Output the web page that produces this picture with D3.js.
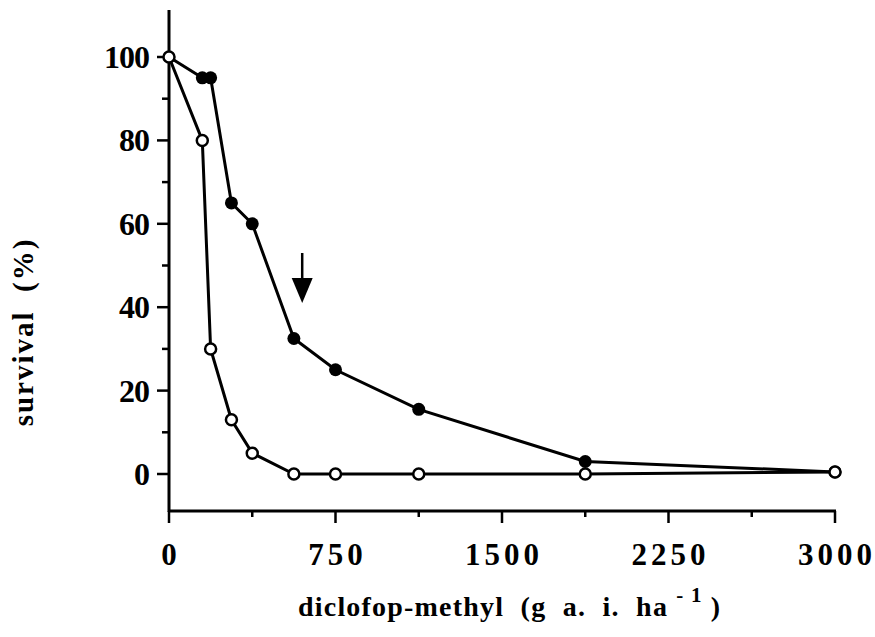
<!DOCTYPE html>
<html>
<head>
<meta charset="utf-8">
<script src="https://cdn.jsdelivr.net/npm/d3@7"></script>
<style>
  body { margin: 0; background: #fff; }
  text { font-family: "Liberation Serif", "Times New Roman", serif; font-weight: bold; fill: #000; }
</style>
</head>
<body>
<svg width="875" height="637"></svg>
<script>
(function () {

  // doses (g a.i. ha-1)
  var doses = [0, 150, 187.5, 281.25, 375, 562.5, 750, 1125, 1875, 3000]

  // survival (%) - filled circles (resistant)
  var filled = [100, 95, 95, 65, 60, 32.5, 25, 15.5, 3, 0.5]
  // survival (%) - open circles (susceptible)
  var open = [100, 80, 30, 13, 5, 0, 0, 0, 0, 0.5]

  var xTicks = [0, 750, 1500, 2250, 3000]
  var xMinor = [375, 1125, 1875, 2625]
  var yTicks = [0, 20, 40, 60, 80, 100]
  var yMinor = [10, 30, 50, 70, 90]

  // arrow position (dose, from, to)
  var arrow = { x: 600, top: 53, bottom: 41 }

  var svg = d3.select('svg')

  var x = d3.scaleLinear().domain([0, 3000]).range([169, 835])
  var y = d3.scaleLinear().domain([0, 100]).range([474, 57])

  var axisY = 511

  // y axis line
  svg.append('line')
    .attr('x1', 169).attr('x2', 169)
    .attr('y1', 10).attr('y2', axisY + 1)
    .attr('stroke', '#000').attr('stroke-width', 3)

  // x axis line
  svg.append('line')
    .attr('x1', 168).attr('x2', 836)
    .attr('y1', axisY).attr('y2', axisY)
    .attr('stroke', '#000').attr('stroke-width', 3)

  // y ticks
  svg.selectAll('.ytick')
    .data(yTicks)
    .enter().append('line')
    .attr('x1', 157).attr('x2', 169)
    .attr('y1', d => y(d)).attr('y2', d => y(d))
    .attr('stroke', '#000').attr('stroke-width', 2.5)

  svg.selectAll('.yminor')
    .data(yMinor)
    .enter().append('line')
    .attr('x1', 162).attr('x2', 169)
    .attr('y1', d => y(d)).attr('y2', d => y(d))
    .attr('stroke', '#000').attr('stroke-width', 2.5)

  svg.selectAll('.ylabel')
    .data(yTicks)
    .enter().append('text')
    .attr('x', 149)
    .attr('y', d => y(d) + 11)
    .attr('text-anchor', 'end')
    .attr('font-size', 32)
    .attr('letter-spacing', -1)
    .text(d => d)

  // x ticks
  svg.selectAll('.xtick')
    .data(xTicks)
    .enter().append('line')
    .attr('x1', d => x(d)).attr('x2', d => x(d))
    .attr('y1', axisY).attr('y2', axisY + 12)
    .attr('stroke', '#000').attr('stroke-width', 2.5)

  svg.selectAll('.xminor')
    .data(xMinor)
    .enter().append('line')
    .attr('x1', d => x(d)).attr('x2', d => x(d))
    .attr('y1', axisY).attr('y2', axisY + 6)
    .attr('stroke', '#000').attr('stroke-width', 2.5)

  svg.selectAll('.xlabel')
    .data(xTicks)
    .enter().append('text')
    .attr('x', d => x(d) + 2)
    .attr('y', 565)
    .attr('text-anchor', 'middle')
    .attr('font-size', 31)
    .attr('letter-spacing', 4)
    .text(d => d)

  // axis titles
  var title = svg.append('text')
    .attr('x', 298)
    .attr('y', 616)
    .attr('font-size', 28)
    .attr('letter-spacing', 1.2)
    .attr('xml:space', 'preserve')
  title.append('tspan').text('diclofop-methyl  (g  a.  i.  ha ')
  title.append('tspan').attr('dy', -14).attr('font-size', 21).text('- 1')
  title.append('tspan').attr('dy', 14).text(' )')

  svg.append('text')
    .attr('transform', 'translate(33,332) rotate(-90)')
    .attr('text-anchor', 'middle')
    .attr('font-size', 29)
    .attr('letter-spacing', 2)
    .attr('xml:space', 'preserve')
    .text('survival  (%)')

  var line = d3.line()
    .x(d => x(d[0]))
    .y(d => y(d[1]))

  var filledPts = doses.map((d, i) => [d, filled[i]])
  var openPts = doses.map((d, i) => [d, open[i]])

  svg.append('path')
    .datum(filledPts)
    .attr('d', line)
    .attr('fill', 'none')
    .attr('stroke', '#000')
    .attr('stroke-width', 3)

  svg.append('path')
    .datum(openPts)
    .attr('d', line)
    .attr('fill', 'none')
    .attr('stroke', '#000')
    .attr('stroke-width', 3)

  svg.selectAll('.filled')
    .data(filledPts.slice(1))
    .enter().append('circle')
    .attr('cx', d => x(d[0]))
    .attr('cy', d => y(d[1]))
    .attr('r', 6.5)
    .attr('fill', '#000')

  svg.selectAll('.open')
    .data(openPts)
    .enter().append('circle')
    .attr('cx', d => x(d[0]))
    .attr('cy', d => y(d[1]))
    .attr('r', 5.5)
    .attr('fill', '#fff')
    .attr('stroke', '#000')
    .attr('stroke-width', 2.5)

  // arrow
  var ax = x(arrow.x)
  var headTop = y(arrow.bottom) - 25
  svg.append('line')
    .attr('x1', ax).attr('x2', ax)
    .attr('y1', y(arrow.top)).attr('y2', headTop + 2)
    .attr('stroke', '#000').attr('stroke-width', 2.5)
  svg.append('path')
    .attr('d', 'M' + (ax - 10.5) + ',' + headTop + 'L' + (ax + 10.5) + ',' + headTop + 'L' + ax + ',' + y(arrow.bottom) + 'Z')
    .attr('fill', '#000')

})()
</script>
</body>
</html>
